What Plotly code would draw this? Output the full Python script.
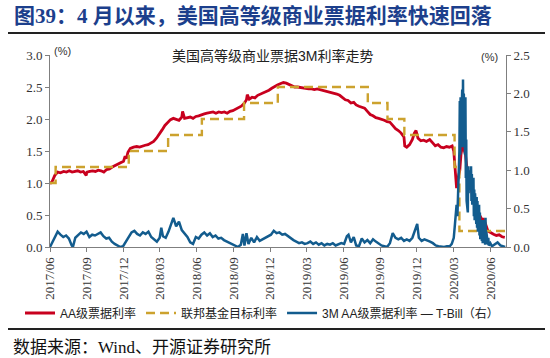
import plotly.graph_objects as go

# ---------------- data ----------------
aa_dates = [
 "2017-06-01","2017-06-06","2017-06-13","2017-06-20","2017-06-27","2017-07-05","2017-07-12","2017-07-19",
 "2017-07-26","2017-08-02","2017-08-09","2017-08-16","2017-08-23","2017-08-30","2017-09-01","2017-09-08",
 "2017-09-15","2017-09-22","2017-09-29","2017-10-06","2017-10-13","2017-10-20","2017-10-27","2017-11-03",
 "2017-11-10","2017-11-17","2017-11-24","2017-12-01","2017-12-05","2017-12-08","2017-12-12","2017-12-18",
 "2017-12-26","2018-01-03","2018-01-10","2018-01-17","2018-01-24","2018-01-31","2018-02-07","2018-02-14",
 "2018-02-21","2018-02-28","2018-03-07","2018-03-14","2018-03-21","2018-03-28","2018-04-04","2018-04-11",
 "2018-04-18","2018-04-25","2018-04-27","2018-05-02","2018-05-09","2018-05-16","2018-05-23","2018-05-30",
 "2018-06-06","2018-06-13","2018-06-20","2018-06-27","2018-07-05","2018-07-12","2018-07-19","2018-07-26",
 "2018-08-02","2018-08-09","2018-08-16","2018-08-23","2018-08-30","2018-09-06","2018-09-13","2018-09-20",
 "2018-09-27","2018-10-03","2018-10-05","2018-10-10","2018-10-17","2018-10-24","2018-10-31","2018-11-07",
 "2018-11-14","2018-11-21","2018-11-28","2018-12-05","2018-12-12","2018-12-19","2018-12-26","2019-01-03",
 "2019-01-10","2019-01-17","2019-01-24","2019-01-31","2019-02-07","2019-02-14","2019-02-21","2019-02-28",
 "2019-03-07","2019-03-14","2019-03-21","2019-03-28","2019-04-04","2019-04-11","2019-04-18","2019-04-25",
 "2019-05-02","2019-05-09","2019-05-16","2019-05-23","2019-05-30","2019-06-06","2019-06-13","2019-06-20",
 "2019-06-27","2019-07-03","2019-07-10","2019-07-17","2019-07-24","2019-07-31","2019-08-07","2019-08-14",
 "2019-08-21","2019-08-28","2019-09-04","2019-09-11","2019-09-18","2019-09-25","2019-10-02","2019-10-09",
 "2019-10-16","2019-10-23","2019-10-30","2019-11-01","2019-11-06","2019-11-13","2019-11-20","2019-11-25",
 "2019-11-29","2019-12-04","2019-12-11","2019-12-18","2019-12-25","2020-01-02","2020-01-09","2020-01-16",
 "2020-01-23","2020-01-30","2020-02-06","2020-02-13","2020-02-20","2020-02-27","2020-03-02","2020-03-04",
 "2020-03-06","2020-03-09","2020-03-12","2020-03-17","2020-03-20","2020-03-24","2020-03-26","2020-03-31",
 "2020-04-07","2020-04-14","2020-04-21","2020-04-28","2020-05-05","2020-05-12","2020-05-14","2020-05-19",
 "2020-05-26","2020-06-02","2020-06-09","2020-06-16","2020-06-23","2020-06-30","2020-07-07"]
aa_rate = [
 0.99,1.02,1.12,1.17,1.16,1.18,1.17,1.19,
 1.17,1.18,1.19,1.17,1.18,1.12,1.17,1.18,
 1.19,1.18,1.20,1.19,1.17,1.21,1.22,1.25,
 1.27,1.29,1.31,1.34,1.42,1.38,1.48,1.54,
 1.56,1.57,1.56,1.58,1.59,1.60,1.63,1.65,
 1.70,1.76,1.83,1.90,1.94,1.99,2.01,2.00,
 1.98,2.03,2.12,2.01,2.02,2.03,2.01,2.04,
 2.05,2.07,2.08,2.09,2.10,2.11,2.09,2.11,
 2.10,2.11,2.09,2.12,2.13,2.15,2.17,2.20,
 2.24,2.30,2.38,2.31,2.34,2.33,2.37,2.39,
 2.40,2.42,2.45,2.48,2.51,2.53,2.55,2.57,
 2.56,2.54,2.52,2.50,2.50,2.49,2.48,2.48,
 2.47,2.47,2.46,2.47,2.46,2.45,2.44,2.43,
 2.42,2.41,2.39,2.37,2.33,2.30,2.29,2.25,
 2.26,2.22,2.20,2.18,2.17,2.12,2.07,2.05,
 2.02,2.01,2.00,1.98,1.96,1.95,1.90,1.85,
 1.82,1.78,1.72,1.58,1.56,1.60,1.68,1.78,
 1.82,1.70,1.66,1.67,1.65,1.68,1.63,1.58,
 1.60,1.56,1.55,1.57,1.56,1.58,1.50,1.30,
 1.05,0.92,1.05,1.20,1.45,1.60,1.55,1.45,
 1.05,0.90,0.75,0.60,0.50,0.42,0.45,0.38,
 0.25,0.22,0.20,0.18,0.19,0.16,0.15]

fed_dates = ["2017-06-01","2017-06-15","2017-12-14","2018-03-22","2018-06-14","2018-09-27","2018-12-20",
             "2019-08-01","2019-09-19","2019-10-31","2020-03-04","2020-03-16","2020-07-08"]
fed_target = [1.00,1.25,1.50,1.75,2.00,2.25,2.50,2.25,2.00,1.75,1.25,0.25,0.25]

spread_dates = [
 "2017-06-01","2017-06-08","2017-06-13","2017-06-20","2017-06-27","2017-07-04","2017-07-11","2017-07-18",
 "2017-07-25","2017-07-28","2017-08-03","2017-08-10","2017-08-17","2017-08-24","2017-08-31","2017-09-07",
 "2017-09-14","2017-09-21","2017-09-28","2017-10-05","2017-10-12","2017-10-19","2017-10-26","2017-11-02",
 "2017-11-09","2017-11-16","2017-11-23","2017-11-30","2017-12-07","2017-12-14","2017-12-21","2017-12-28",
 "2018-01-04","2018-01-11","2018-01-18","2018-01-25","2018-02-01","2018-02-08","2018-02-15","2018-02-22",
 "2018-03-01","2018-03-05","2018-03-09","2018-03-16","2018-03-23","2018-03-30","2018-04-04","2018-04-11",
 "2018-04-18","2018-04-25","2018-05-02","2018-05-09","2018-05-16","2018-05-23","2018-05-30","2018-06-06",
 "2018-06-13","2018-06-20","2018-06-27","2018-07-04","2018-07-11","2018-07-18","2018-07-25","2018-08-01",
 "2018-08-08","2018-08-15","2018-08-22","2018-08-29","2018-09-05","2018-09-12","2018-09-19","2018-09-24",
 "2018-09-28","2018-10-03","2018-10-08","2018-10-15","2018-10-22","2018-10-29","2018-11-05","2018-11-12",
 "2018-11-19","2018-11-26","2018-12-03","2018-12-10","2018-12-17","2018-12-24","2018-12-31","2019-01-07",
 "2019-01-14","2019-01-21","2019-01-28","2019-02-04","2019-02-11","2019-02-18","2019-02-25","2019-03-04",
 "2019-03-11","2019-03-18","2019-03-25","2019-04-01","2019-04-08","2019-04-15","2019-04-22","2019-04-29",
 "2019-05-06","2019-05-13","2019-05-20","2019-05-27","2019-06-03","2019-06-10","2019-06-14","2019-06-20",
 "2019-06-27","2019-07-03","2019-07-10","2019-07-17","2019-07-24","2019-07-31","2019-08-07","2019-08-14",
 "2019-08-21","2019-08-28","2019-09-04","2019-09-11","2019-09-18","2019-09-25","2019-10-02","2019-10-09",
 "2019-10-16","2019-10-23","2019-10-30","2019-11-06","2019-11-13","2019-11-20","2019-11-27","2019-12-02",
 "2019-12-06","2019-12-13","2019-12-20","2019-12-27","2020-01-03","2020-01-10","2020-01-17","2020-01-24",
 "2020-01-31","2020-02-07","2020-02-14","2020-02-21","2020-02-26","2020-03-02","2020-03-05","2020-03-09",
 "2020-03-11","2020-03-13","2020-03-16","2020-03-17","2020-03-18","2020-03-19","2020-03-20","2020-03-23",
 "2020-03-24","2020-03-25","2020-03-26","2020-03-27","2020-03-30","2020-03-31","2020-04-01","2020-04-02",
 "2020-04-03","2020-04-06","2020-04-07","2020-04-08","2020-04-09","2020-04-13","2020-04-14","2020-04-15",
 "2020-04-16","2020-04-17","2020-04-20","2020-04-21","2020-04-22","2020-04-23","2020-04-24","2020-04-27",
 "2020-04-28","2020-04-29","2020-04-30","2020-05-01","2020-05-04","2020-05-05","2020-05-06","2020-05-07",
 "2020-05-08","2020-05-11","2020-05-12","2020-05-13","2020-05-14","2020-05-15","2020-05-18","2020-05-19",
 "2020-05-20","2020-05-21","2020-05-22","2020-05-26","2020-05-27","2020-05-28","2020-06-01","2020-06-05",
 "2020-06-12","2020-06-19","2020-06-26","2020-07-03","2020-07-08"]
spread = [
 0.00,0.08,0.14,0.20,0.16,0.13,0.15,0.11,
 0.02,0.00,0.12,0.16,0.19,0.17,0.20,0.13,
 0.16,0.15,0.17,0.19,0.14,0.11,0.12,0.07,
 0.04,0.02,0.00,0.01,0.07,0.13,0.19,0.21,
 0.17,0.15,0.19,0.17,0.20,0.13,0.10,0.07,
 0.12,0.25,0.14,0.12,0.20,0.32,0.38,0.27,
 0.33,0.22,0.18,0.13,0.06,0.04,0.13,0.11,
 0.16,0.19,0.15,0.18,0.13,0.15,0.11,0.12,
 0.09,0.07,0.05,0.03,0.01,0.00,0.03,0.17,
 0.02,0.18,0.04,0.12,0.06,0.13,0.08,0.10,
 0.12,0.14,0.16,0.21,0.18,0.19,0.16,0.17,
 0.14,0.12,0.09,0.07,0.05,0.06,0.04,0.05,
 0.07,0.04,0.06,0.03,0.05,0.02,0.04,0.03,
 0.05,0.02,0.04,0.05,0.04,0.14,0.16,0.06,
 0.13,0.02,0.01,0.11,0.06,0.09,0.05,0.10,
 0.07,0.04,0.02,0.01,0.00,0.05,0.18,0.12,
 0.10,0.12,0.08,0.10,0.08,0.12,0.22,0.30,
 0.12,0.08,0.10,0.09,0.07,0.05,0.02,0.01,
 0.00,0.00,0.01,0.01,0.04,0.12,0.30,0.55,
 0.40,0.80,1.25,1.90,1.20,1.95,1.50,2.05,
 1.30,2.18,1.40,2.00,1.20,1.95,0.90,1.40,
 0.60,0.45,1.05,0.70,1.00,0.75,1.05,0.60,
 0.95,0.55,0.90,0.40,0.75,0.35,0.70,0.30,
 0.65,0.25,0.60,0.20,0.55,0.15,0.45,0.10,
 0.35,0.08,0.30,0.05,0.35,0.05,0.25,0.03,
 0.38,0.04,0.20,0.03,0.12,0.02,0.05,0.01,
 0.03,0.06,0.02,0.01,0.00]

# ---------------- figure ----------------
RED = "#C8001E"
GOLD = "#CCA22E"
BLUE = "#135C8E"
SANS = "Liberation Sans, Noto Sans CJK SC"
SERIF = "Liberation Serif, Noto Sans CJK SC"

fig = go.Figure()
fig.add_trace(go.Scatter(x=aa_dates, y=aa_rate, name="AA级票据利率", mode="lines",
                         line=dict(color=RED, width=2.8), yaxis="y"))
fig.add_trace(go.Scatter(x=fed_dates, y=fed_target, name="联邦基金目标利率", mode="lines",
                         line=dict(color=GOLD, width=2.4, dash="9px,5px", shape="hv"), yaxis="y"))
fig.add_trace(go.Scatter(x=spread_dates, y=spread, name="3M AA级票据利率 — T-Bill（右）", mode="lines",
                         line=dict(color=BLUE, width=2.5), yaxis="y2"))

axis_common = dict(showline=True, linecolor="#7f7f7f", linewidth=1, ticks="outside",
                   ticklen=4, tickcolor="#7f7f7f", showgrid=False, zeroline=False,
                   tickfont=dict(family="Liberation Serif", size=13, color="#333333"))

def px2x(px):
    return (px - 50) / 456.0

def px2y(py):
    return (247 - py) / 192.0

fig.update_layout(
    width=550, height=358,
    margin=dict(l=50, r=44, t=55, b=111, autoexpand=False),
    paper_bgcolor="white", plot_bgcolor="white",
    showlegend=True,
    legend=dict(orientation="h", x=px2x(20), xanchor="left", y=px2y(313), yanchor="middle",
                font=dict(family=SANS, size=12, color="#222222"), tracegroupgap=0,
                itemwidth=30, bgcolor="rgba(0,0,0,0)"),
    xaxis=dict(type="date", range=["2017-06-01", "2020-07-10"], dtick="M3", tick0="2017-06-01",
               tickformat="%Y/%m", tickangle=-90, **axis_common),
    yaxis=dict(range=[0, 3], dtick=0.5, tickformat=".1f", **axis_common),
    yaxis2=dict(range=[0, 2.5], dtick=0.5, tickformat=".1f", overlaying="y", side="right",
                **axis_common),
)

annotations = [
    dict(text="<b>图39：4 月以来，美国高等级商业票据利率快速回落</b>", x=px2x(12), y=px2y(16),
         xanchor="left", yanchor="middle", font=dict(family=SERIF, size=21, color="#1C3F8C")),
    dict(text="美国高等级商业票据3M利率走势", x=px2x(272), y=px2y(56),
         xanchor="center", yanchor="middle", font=dict(family=SANS, size=14, color="#222222")),
    dict(text="(%)", x=px2x(52), y=px2y(51), xanchor="left", yanchor="middle",
         font=dict(family=SANS, size=11, color="#333333")),
    dict(text="(%)", x=px2x(500), y=px2y(57), xanchor="right", yanchor="middle",
         font=dict(family=SANS, size=11, color="#333333")),
    dict(text="数据来源：Wind、开源证券研究所", x=px2x(11), y=px2y(347),
         xanchor="left", yanchor="middle", font=dict(family=SERIF, size=17, color="#111111")),
]
for a in annotations:
    a.update(xref="paper", yref="paper", showarrow=False)
fig.update_layout(annotations=annotations)

fig.update_layout(shapes=[
    dict(type="line", xref="paper", yref="paper", x0=px2x(8), x1=px2x(545), y0=px2y(33), y1=px2y(33),
         line=dict(color="#222222", width=2)),
    dict(type="line", xref="paper", yref="paper", x0=px2x(8), x1=px2x(545), y0=px2y(329), y1=px2y(329),
         line=dict(color="#222222", width=2)),
])

fig.write_html("out.html", config={"displayModeBar": False},
               post_script="document.body.style.margin='0px';")
